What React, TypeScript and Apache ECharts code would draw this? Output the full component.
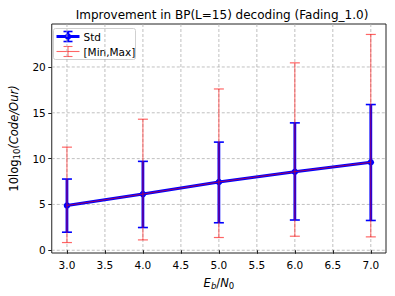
import React, { useEffect, useRef } from "react";
import * as echarts from "echarts";

const xValues = [3.0, 4.0, 5.0, 6.0, 7.0];
const meanValues = [4.89, 6.13, 7.45, 8.57, 9.6];
const stdLow = [1.97, 2.48, 3.0, 3.3, 3.25];
const stdHigh = [7.77, 9.7, 11.8, 13.9, 15.9];
const minValues = [0.84, 1.13, 1.39, 1.53, 1.46];
const maxValues = [11.25, 14.3, 17.6, 20.45, 23.55];
const xTicks = [3.0, 3.5, 4.0, 4.5, 5.0, 5.5, 6.0, 6.5, 7.0];
const yTicks = [0, 5, 10, 15, 20];

const FONT = "DejaVu Sans";

function errRender(color: string, width: number, capWidth: number, cap: number, opacity: number) {
  return (params: any, api: any) => {
    const x = api.value(0);
    const lo = api.coord([x, api.value(1)]);
    const hi = api.coord([x, api.value(2)]);
    const st = { stroke: color, lineWidth: width, opacity };
    const cst = { stroke: color, lineWidth: capWidth, opacity };
    return {
      type: "group",
      children: [
        { type: "line", shape: { x1: lo[0], y1: lo[1], x2: hi[0], y2: hi[1] }, style: st },
        { type: "line", shape: { x1: lo[0] - cap, y1: lo[1], x2: lo[0] + cap, y2: lo[1] }, style: cst },
        { type: "line", shape: { x1: hi[0] - cap, y1: hi[1], x2: hi[0] + cap, y2: hi[1] }, style: cst },
      ],
    };
  };
}

export default function App() {
  const ref = useRef<HTMLDivElement>(null);
  useEffect(() => {
    if (!ref.current) return;
    const chart = echarts.init(ref.current, null, { renderer: "svg" });
    const gridStyle = { stroke: "#b0b0b0", lineWidth: 0.8, lineDash: [3, 2] };
    const option: any = {
      animation: false,
      backgroundColor: "#fff",
      title: {
        text: "Improvement in BP(L=15) decoding (Fading_1.0)",
        left: 217,
        textAlign: "center",
        top: 4,
        textStyle: { fontFamily: FONT, fontSize: 12, fontWeight: "normal", color: "#000" },
      },
      grid: { left: 49, right: 9, top: 24, bottom: 43, show: true, borderColor: "#222", borderWidth: 1, backgroundColor: "transparent" },
      xAxis: {
        type: "value",
        min: 2.8,
        max: 7.2,
        axisLine: { show: false },
        axisTick: { show: true, customValues: xTicks, length: 3.5, lineStyle: { color: "#222" } },
        axisLabel: { customValues: xTicks, formatter: (v: number) => v.toFixed(1), fontFamily: FONT, fontSize: 10.5, color: "#000", margin: 6 },
        splitLine: { show: false },
        name: "{i|E}{s|b}{n|/}{i|N}{t|0}",
        nameLocation: "middle",
        nameGap: 22,
        nameTextStyle: {
          rich: {
            i: { fontFamily: FONT, fontStyle: "italic", fontSize: 11.5, color: "#000" },
            n: { fontFamily: FONT, fontSize: 11.5, color: "#000" },
            s: { fontFamily: FONT, fontStyle: "italic", fontSize: 8.5, color: "#000", padding: [6, 0, 0, 0] },
            t: { fontFamily: FONT, fontSize: 8.5, color: "#000", padding: [6, 0, 0, 0] },
          },
        },
      },
      yAxis: {
        type: "value",
        min: -0.3,
        max: 24.69,
        axisLine: { show: false },
        axisTick: { show: true, customValues: yTicks, length: 3.5, lineStyle: { color: "#222" } },
        axisLabel: { customValues: yTicks, fontFamily: FONT, fontSize: 10.5, color: "#000", margin: 6 },
        splitLine: { show: false },
        name: "{n|10log}{s|10}{i|(Code/Our)}",
        nameLocation: "middle",
        nameGap: 27,
        nameTextStyle: {
          rich: {
            n: { fontFamily: FONT, fontSize: 11.5, color: "#000" },
            s: { fontFamily: FONT, fontSize: 8.5, color: "#000", padding: [6, 0, 0, 0] },
            i: { fontFamily: FONT, fontStyle: "italic", fontSize: 11.5, color: "#000" },
          },
        },
      },
      graphic: [
        {
          type: "group",
          left: 53,
          top: 28,
          children: [
            { type: "rect", shape: { x: 0, y: 0, width: 82, height: 31, r: 2 }, style: { fill: "rgba(255,255,255,0.8)", stroke: "#d0d0d0", lineWidth: 1 } },
            { type: "line", shape: { x1: 3, y1: 8, x2: 26, y2: 8 }, style: { stroke: "#0000ff", lineWidth: 3 } },
            { type: "line", shape: { x1: 14.5, y1: 3, x2: 14.5, y2: 13 }, style: { stroke: "#0000ff", lineWidth: 2.5 } },
            { type: "line", shape: { x1: 10, y1: 3, x2: 19, y2: 3 }, style: { stroke: "#0000ff", lineWidth: 1.6 } },
            { type: "line", shape: { x1: 10, y1: 13, x2: 19, y2: 13 }, style: { stroke: "#0000ff", lineWidth: 1.6 } },
            { type: "circle", shape: { cx: 14.5, cy: 8, r: 3.3 }, style: { fill: "#0000ff" } },
            { type: "text", x: 30, y: 8, style: { text: "Std", fontFamily: FONT, fontSize: 10.5, fill: "#000", verticalAlign: "middle" } },
            { type: "line", shape: { x1: 3, y1: 23, x2: 26, y2: 23 }, style: { stroke: "#ff0000", lineWidth: 1.1, opacity: 0.6 } },
            { type: "line", shape: { x1: 14.5, y1: 18, x2: 14.5, y2: 28 }, style: { stroke: "#ff0000", lineWidth: 1.1, opacity: 0.6 } },
            { type: "line", shape: { x1: 10, y1: 18, x2: 19, y2: 18 }, style: { stroke: "#ff0000", lineWidth: 1.1, opacity: 0.6 } },
            { type: "line", shape: { x1: 10, y1: 28, x2: 19, y2: 28 }, style: { stroke: "#ff0000", lineWidth: 1.1, opacity: 0.6 } },
            { type: "text", x: 30, y: 23, style: { text: "[Min,Max]", fontFamily: FONT, fontSize: 10.5, fill: "#000", verticalAlign: "middle" } },
          ],
          z: 100,
        },
      ],
      series: [
        {
          type: "custom",
          name: "vgrid",
          silent: true,
          z: 0,
          data: xTicks.map((x) => [x, 0]),
          renderItem: (params: any, api: any) => {
            const cs = params.coordSys;
            const p = api.coord([api.value(0), 0]);
            return { type: "line", shape: { x1: p[0], y1: cs.y, x2: p[0], y2: cs.y + cs.height }, style: gridStyle };
          },
        },
        {
          type: "custom",
          name: "hgrid",
          silent: true,
          z: 0,
          data: yTicks.map((y) => [3, y]),
          renderItem: (params: any, api: any) => {
            const cs = params.coordSys;
            const p = api.coord([api.value(0), api.value(1)]);
            return { type: "line", shape: { x1: cs.x, y1: p[1], x2: cs.x + cs.width, y2: p[1] }, style: gridStyle };
          },
        },
        {
          type: "line",
          name: "Std",
          z: 2,
          data: xValues.map((x, i) => [x, meanValues[i]]),
          lineStyle: { color: "#0000ff", width: 3 },
          itemStyle: { color: "#0000ff" },
          symbol: "circle",
          symbolSize: 6.5,
        },
        {
          type: "custom",
          name: "StdErr",
          z: 3,
          data: xValues.map((x, i) => [x, stdLow[i], stdHigh[i]]),
          renderItem: errRender("#0000ff", 2.8, 1.6, 5, 1),
        },
        {
          type: "line",
          name: "[Min,Max]",
          z: 4,
          data: xValues.map((x, i) => [x, meanValues[i]]),
          lineStyle: { color: "#ff0000", width: 1.0, opacity: 0.6 },
          symbol: "none",
        },
        {
          type: "custom",
          name: "MinMaxErr",
          z: 5,
          data: xValues.map((x, i) => [x, minValues[i], maxValues[i]]),
          renderItem: errRender("#ff0000", 1.0, 1.2, 5, 0.6),
        },
      ],
    };
    chart.setOption(option);
    return () => chart.dispose();
  }, []);
  return <div ref={ref} style={{ width: 395, height: 296, position: "absolute", left: 0, top: 0 }} />;
}
